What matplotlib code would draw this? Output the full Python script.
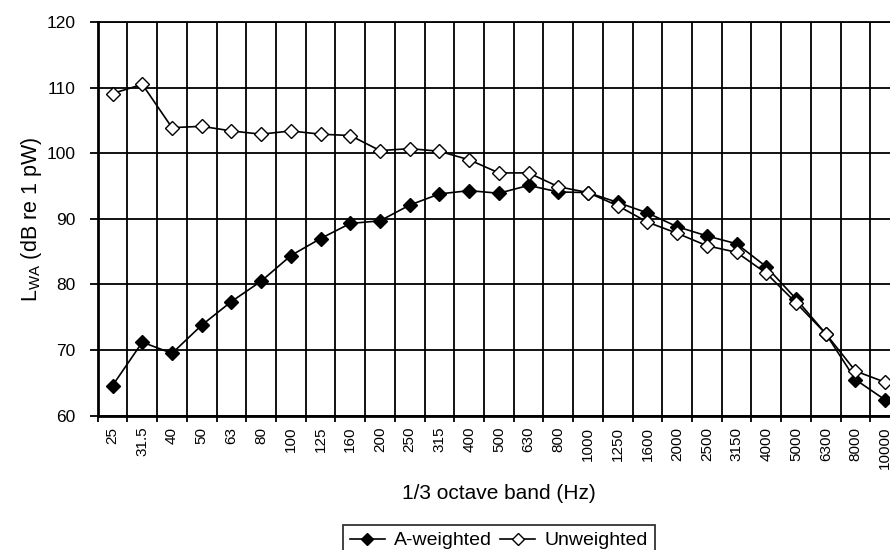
import matplotlib.pyplot as plt
from matplotlib.ticker import FixedLocator

plt.rcParams['font.family'] = ['Liberation Sans', 'DejaVu Sans']
plt.rcParams['mathtext.default'] = 'regular'

bands = ['25', '31.5', '40', '50', '63', '80', '100', '125', '160', '200',
         '250', '315', '400', '500', '630', '800', '1000', '1250', '1600',
         '2000', '2500', '3150', '4000', '5000', '6300', '8000', '10000']

a_weighted = [64.6, 71.2, 69.5, 73.8, 77.4, 80.5, 84.4, 87.0, 89.3, 89.7,
              92.1, 93.8, 94.3, 93.9, 95.1, 94.1, 94.0, 92.5, 90.9, 88.8,
              87.4, 86.2, 82.7, 77.8, 72.5, 65.5, 62.4]

unweighted = [109.1, 110.5, 103.9, 104.1, 103.4, 102.9, 103.4, 102.9, 102.7,
              100.4, 100.7, 100.3, 99.0, 97.0, 97.0, 94.9, 94.0, 92.0, 89.5,
              87.8, 85.9, 84.9, 81.7, 77.2, 72.5, 66.8, 65.1]


def plot_levels():
    fig = plt.figure(figsize=(8.9, 5.5), dpi=100)
    ax = fig.add_axes([0.1098, 0.2442, 0.9015, 0.7158])

    x = list(range(len(bands)))
    ax.plot(x, a_weighted, color='black', lw=1.2, marker='D', ms=7,
            mfc='black', mec='black', label='A-weighted', zorder=3)
    ax.plot(x, unweighted, color='black', lw=1.2, marker='D', ms=7,
            mfc='white', mec='black', label='Unweighted', zorder=3)

    ax.set_xlim(-0.5, len(bands) - 0.5)
    ax.set_ylim(60, 120)
    ax.set_yticks(range(60, 121, 10))

    # labels sit on the bands, ticks and grid lines between them
    ax.set_xticks(x)
    ax.set_xticklabels(bands, rotation=90, fontsize=11)
    ax.xaxis.set_minor_locator(FixedLocator([i - 0.5 for i in range(len(bands) + 1)]))
    ax.tick_params(axis='x', which='major', length=0, pad=8)
    ax.tick_params(axis='x', which='minor', length=4.5, width=1.3, direction='out')
    ax.tick_params(axis='y', length=6, width=1.3, direction='out', labelsize=12.5, pad=10)

    ax.grid(True, axis='x', which='minor', color='black', lw=1.3)
    ax.grid(True, axis='y', which='major', color='black', lw=1.3)
    ax.set_axisbelow(True)

    for side in ['left', 'bottom']:
        ax.spines[side].set_linewidth(2)
    ax.spines['top'].set_linewidth(1.3)
    ax.spines['right'].set_visible(False)

    ax.set_ylabel('L$_{WA}$ (dB re 1 pW)', fontsize=15.5, labelpad=1.5)
    ax.set_xlabel('1/3 octave band (Hz)', fontsize=15, labelpad=10.5)

    leg = fig.legend(loc='upper center', bbox_to_anchor=(0.5607, 0.0455), ncol=2,
                     fontsize=14, frameon=True, fancybox=False, numpoints=1,
                     handlelength=1.8, handletextpad=0.5, columnspacing=0.4,
                     borderpad=0.35, borderaxespad=0, markerscale=0.9)
    leg.get_frame().set_edgecolor('black')
    leg.get_frame().set_linewidth(1.3)

    fig.savefig('out.png', dpi=100)


if __name__ == '__main__':
    plot_levels()
